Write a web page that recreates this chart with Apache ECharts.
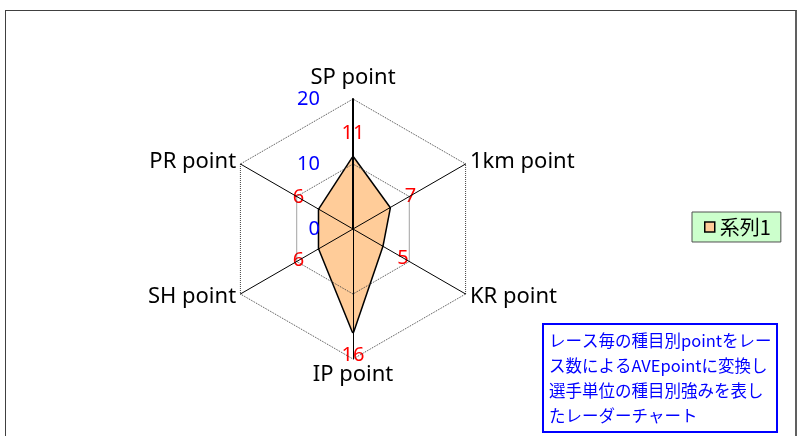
<!DOCTYPE html>
<html>
<head>
<meta charset="utf-8">
<script src="https://cdn.jsdelivr.net/npm/echarts@6/dist/echarts.min.js"></script>
<style>
  html, body { margin: 0; padding: 0; background: #fff; }
  #frame { position: absolute; left: 5px; top: 10px; width: 792px; height: 440px; box-sizing: border-box;
           border: 1px solid #404040; border-right: 2px solid #606060; }
  #chart { position: absolute; left: 0; top: 0; width: 802px; height: 436px; }
</style>
</head>
<body>
<div id="frame"></div>
<div id="chart"></div>
<script>
// 種目 (clockwise from top, as in the sheet)
const indicatorNames = ['SP point', '1km point', 'KR point', 'IP point', 'SH point', 'PR point']
// 系列1 values (labels show rounded)
const series1 = [11.0, 6.5, 5.2, 15.8, 6.0, 6.0]
const axisMin = 0
const axisMax = 20
const legendName = '系列1'
const noteLines = [
  'レース毎の種目別pointをレー',
  'ス数によるAVEpointに変換し',
  '選手単位の種目別強みを表し',
  'たレーダーチャート'
]

const radarCenter = [353, 229]
const labelGap = 24
// echarts goes counter-clockwise, so reverse everything after the first
const order = [0].concat(indicatorNames.map((_, i) => i).slice(1).reverse())

const chart = echarts.init(document.getElementById('chart'), null, { renderer: 'canvas' })

const option = {
  animation: false,
  title: {
    text: noteLines.join('\n'),
    left: 543,
    top: 324,
    backgroundColor: '#fff',
    borderColor: '#0000ff',
    borderWidth: 2,
    padding: [4, 6, 4, 6],
    textStyle: {
      color: '#0000ff',
      fontSize: 16.5,
      fontWeight: 'normal',
      lineHeight: 25,
      fontFamily: 'Noto Sans CJK JP'
    }
  },
  legend: {
    left: 692,
    top: 212,
    orient: 'vertical',
    backgroundColor: '#ccffcc',
    borderColor: '#505050',
    borderWidth: 1,
    padding: [5, 10, 5, 12],
    itemWidth: 10,
    itemHeight: 10,
    itemGap: 4,
    icon: 'rect',
    itemStyle: { color: '#ffcc99', borderColor: '#000', borderWidth: 1.5 },
    textStyle: { color: '#000', fontSize: 20, fontFamily: 'Noto Sans CJK JP' },
    data: [legendName]
  },
  radar: {
    center: radarCenter,
    radius: 130,
    startAngle: 90,
    splitNumber: 2,
    shape: 'polygon',
    z: 3,
    nameGap: 5,
    axisName: { color: '#000', fontSize: 22, fontFamily: 'Noto Sans' },
    axisLine: { lineStyle: { color: '#000', width: 1 } },
    axisTick: { show: false },
    axisLabel: { show: false },
    splitLine: { lineStyle: { color: '#444', type: 'dotted', width: 1 } },
    splitArea: { show: false },
    indicator: order.map((i, k) => {
      const ind = { name: indicatorNames[i], min: axisMin, max: axisMax }
      if (k === 0) {
        ind.axisLabel = { show: true, color: '#0000ff', fontSize: 20, margin: 33, fontFamily: 'Noto Sans' }
        ind.axisLine = { lineStyle: { color: '#000', width: 2 } }
      }
      return ind
    })
  },
  series: [{
    type: 'radar',
    name: legendName,
    symbol: 'circle',
    symbolSize: 1,
    itemStyle: { color: '#000' },
    lineStyle: { color: '#000', width: 3 },
    areaStyle: { color: '#ffcc99', opacity: 1 },
    label: {
      show: true,
      color: '#ff0000',
      fontSize: 20,
      fontFamily: 'Noto Sans',
      formatter: p => Math.round(p.value)
    },
    // push each value label outward along its spoke
    labelLayout: function (params) {
      const sx = params.rect.x + params.rect.width / 2
      const sy = params.rect.y + params.rect.height / 2
      const dx = sx - radarCenter[0]
      const dy = sy - radarCenter[1]
      const len = Math.sqrt(dx * dx + dy * dy) || 1
      return {
        x: sx + dx / len * labelGap,
        y: sy + dy / len * labelGap,
        align: 'center',
        verticalAlign: 'middle'
      }
    },
    data: [{ name: legendName, value: order.map(i => series1[i]) }]
  }]
}

chart.setOption(option)
</script>
</body>
</html>
